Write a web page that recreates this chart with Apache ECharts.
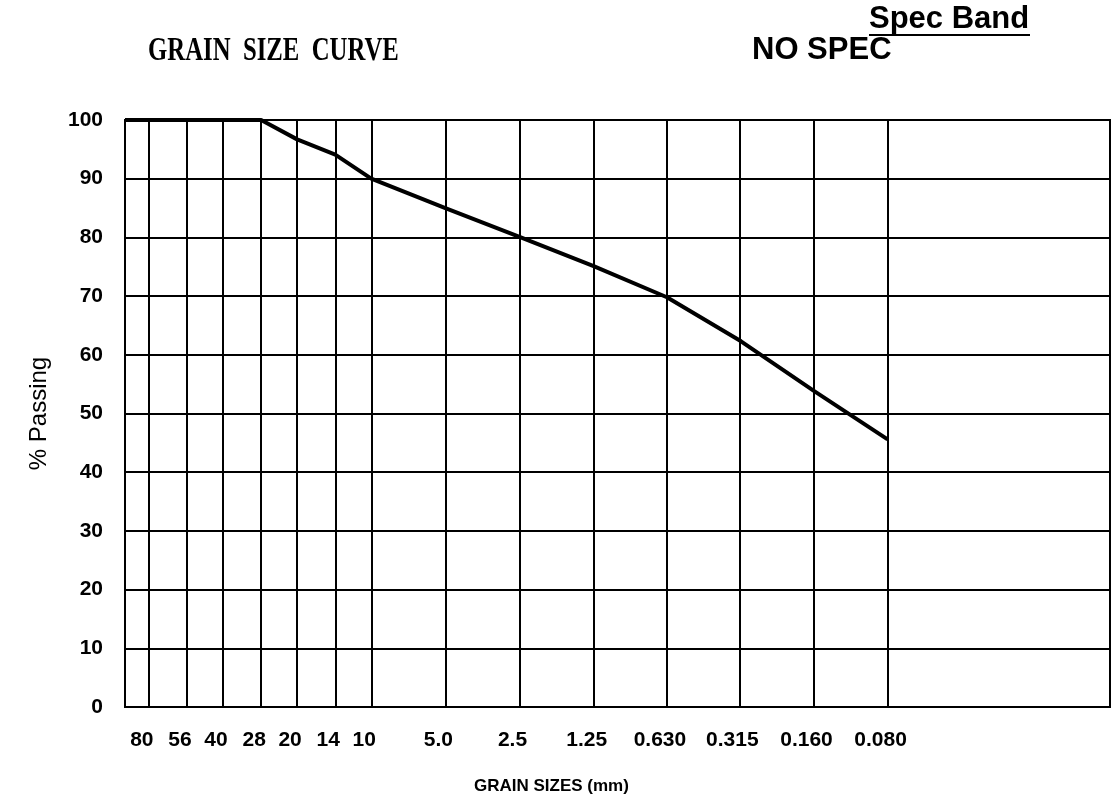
<!DOCTYPE html>
<html>
<head>
<meta charset="utf-8">
<script src="https://cdn.jsdelivr.net/npm/echarts@6/dist/echarts.min.js"></script>
<style>
html,body{margin:0;padding:0;background:#fff;}
#chart{width:1117px;height:798px;}
</style>
</head>
<body>
<div id="chart"></div>
<script>
// Sieve sizes (mm) and their printed labels
const sieveSizes = [80, 56, 40, 28, 20, 14, 10, 5.0, 2.5, 1.25, 0.630, 0.315, 0.160, 0.080];
const sieveLabels = ['80', '56', '40', '28', '20', '14', '10', '5.0', '2.5', '1.25', '0.630', '0.315', '0.160', '0.080'];
// % passing (the curve also starts at the 100 mm left edge at 100 %)
const curveSizes = [100, 80, 56, 40, 28, 20, 14, 10, 5.0, 2.5, 1.25, 0.630, 0.315, 0.160, 0.080];
const percentPassing = [100, 100, 100, 100, 100, 96.7, 94.1, 90.0, 85.0, 80.1, 75.1, 69.8, 62.3, 53.9, 45.6];
const yTicks = [0, 10, 20, 30, 40, 50, 60, 70, 80, 90, 100];

const chart = echarts.init(document.getElementById('chart'), null, {renderer: 'canvas'});

const sans = 'Liberation Sans, Arial, Helvetica, sans-serif';

const option = {
  backgroundColor: '#ffffff',
  animation: false,
  grid: {
    left: 125, right: 7, top: 120, bottom: 91,
    show: true, borderColor: '#000', borderWidth: 2, backgroundColor: 'transparent'
  },
  xAxis: {
    type: 'log', logBase: 10, min: 0.01, max: 100, inverse: true,
    axisLine: {show: false}, axisTick: {show: false},
    axisLabel: {show: false}, splitLine: {show: false}, minorSplitLine: {show: false}
  },
  yAxis: {
    type: 'value', min: yTicks[0], max: yTicks[yTicks.length - 1], interval: 10,
    name: '% Passing', nameLocation: 'middle', nameGap: 74, nameRotate: 90,
    nameTextStyle: {fontFamily: sans, fontSize: 24, fontWeight: 'normal', color: '#000'},
    axisLine: {show: false}, axisTick: {show: false},
    axisLabel: {fontFamily: sans, fontSize: 21, fontWeight: 'bold', color: '#000', margin: 22},
    splitLine: {show: true, lineStyle: {color: '#000', width: 2, type: 'solid'}}
  },
  series: [
    {
      type: 'line',
      data: [],
      silent: true,
      markLine: {
        silent: true,
        symbol: ['none', 'none'],
        animation: false,
        lineStyle: {color: '#000', width: 2, type: 'solid'},
        label: {
          show: true, position: 'start', distance: 23, offset: [-7, 0],
          fontFamily: sans, fontSize: 21, fontWeight: 'bold', color: '#000',
          formatter: p => p.name
        },
        emphasis: {disabled: true},
        data: sieveSizes.map((s, i) => ({xAxis: s, name: sieveLabels[i]}))
      }
    },
    {
      type: 'line',
      z: 5,
      symbol: 'none',
      lineStyle: {color: '#000', width: 4},
      data: curveSizes.map((s, i) => [s, percentPassing[i]])
    }
  ],
  graphic: [
    {
      type: 'text', left: 148, top: 35, scaleX: 0.75,
      style: {text: 'GRAIN  SIZE  CURVE', font: 'bold 33px "Liberation Serif", "Times New Roman", serif', fill: '#000'}
    },
    {
      type: 'text', left: 752, top: 35,
      style: {text: 'NO SPEC', font: 'bold 31px "Liberation Sans", Arial, sans-serif', fill: '#000'}
    },
    {
      type: 'text', left: 869, top: 4,
      style: {text: 'Spec Band', font: 'bold 31px "Liberation Sans", Arial, sans-serif', fill: '#000'}
    },
    {
      type: 'line', shape: {x1: 869, y1: 35, x2: 1030, y2: 35},
      style: {stroke: '#000', lineWidth: 2}
    },
    {
      type: 'text', left: 474, top: 778,
      style: {text: 'GRAIN SIZES (mm)', font: 'bold 17px "Liberation Sans", Arial, sans-serif', fill: '#000'}
    }
  ]
};

chart.setOption(option);
</script>
</body>
</html>
